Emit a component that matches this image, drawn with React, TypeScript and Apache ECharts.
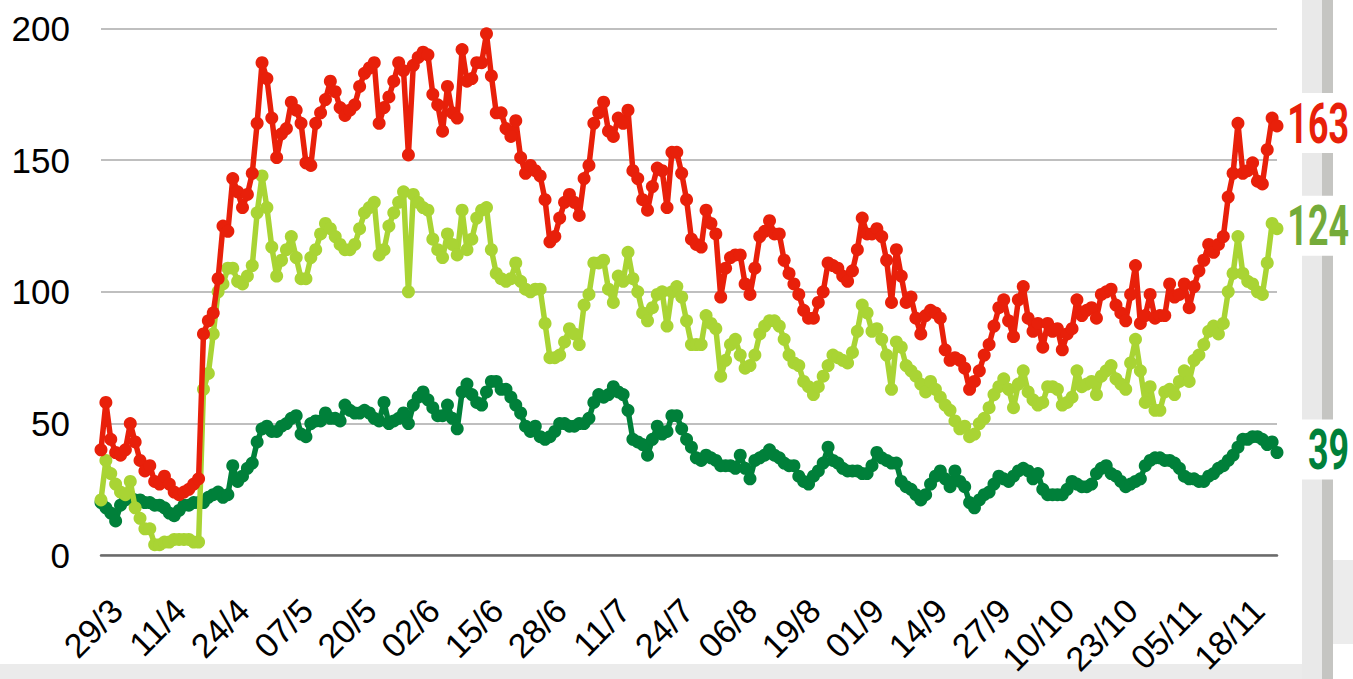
import React, { useEffect, useRef } from "react";
import * as echarts from "echarts";

// first day of the series: 29 March (2020)
const startYear = 2020;
const startMonth = 2; // March (0-based)
const startDay = 29;
const labelStep = 13;

const redValues = [
  40, 58, 44, 39, 38, 40, 50, 43, 36, 32, 34, 28, 27, 30, 27, 24, 23, 24, 25, 27, 29,
  84, 89, 92, 105, 125, 123, 143, 138, 132, 137, 145, 164, 187, 181, 166, 151, 160, 162, 172, 169, 164, 149, 148, 164, 168, 173, 180,
  176, 170, 167, 169, 171, 178, 183, 185, 187, 164, 170, 174, 180, 187, 184, 152, 186, 189, 191, 190, 175, 171, 161, 178,
  168, 166, 192, 180, 181, 187, 187, 198, 182, 168, 168, 162, 159, 165, 151, 145, 148, 146, 144, 135, 119, 121, 128, 134, 137,
  134, 129, 143, 148, 164, 168, 172, 161, 159, 166, 164, 169, 146, 143, 135, 131, 140, 147, 146, 132, 153, 153, 145, 135,
  120, 118, 117, 131, 126, 122, 98, 109, 113, 114, 114, 103, 99, 109, 121, 123, 127, 122, 122, 112, 107, 103, 99, 93, 90,
  90, 96, 100, 111, 110, 109, 106, 104, 108, 116, 128, 122, 122, 124, 121, 112, 96, 116, 106, 96, 98, 90, 84, 91,
  93, 92, 90, 78, 74, 75, 74, 71, 63, 66, 70, 76, 80, 87, 94, 97, 89, 83, 97, 102, 90, 85, 88, 79, 88,
  85, 86, 78, 84, 86, 97, 91, 93, 94, 90, 99, 100, 101, 95, 92, 89, 99, 110, 88, 91, 99, 90, 91, 91, 103,
  98, 99, 103, 94, 102, 108, 112, 118, 115, 118, 121, 136, 145, 164, 145, 146, 149, 142, 141, 154, 166, 163,
];

const limeValues = [
  21, 36, 31, 27, 24, 23, 28, 18, 14, 10, 10, 4, 4, 5, 5, 6, 6, 6, 6, 5, 5,
  63, 69, 84, 100, 103, 109, 109, 104, 103, 106, 110, 130, 144, 132, 117, 106, 112, 116, 121, 113, 105, 105, 113, 116, 122, 126,
  124, 121, 118, 116, 116, 118, 124, 130, 132, 134, 114, 116, 125, 130, 134, 138, 100, 137, 134, 132, 131, 120, 116, 113, 122,
  118, 114, 131, 116, 120, 128, 131, 132, 116, 107, 105, 104, 105, 111, 104, 101, 100, 101, 101, 88, 75, 75, 76, 81, 86,
  84, 80, 95, 99, 111, 111, 112, 101, 96, 106, 104, 115, 105, 100, 92, 89, 94, 99, 100, 87, 100, 102, 98, 89,
  80, 80, 80, 91, 88, 86, 68, 74, 80, 82, 76, 71, 72, 76, 84, 87, 89, 89, 87, 82, 76, 73, 72, 66, 64,
  61, 64, 68, 72, 76, 75, 74, 73, 77, 85, 95, 92, 85, 86, 82, 76, 63, 81, 79, 72, 70, 68, 65, 62,
  66, 63, 60, 57, 55, 51, 48, 49, 45, 46, 50, 52, 56, 61, 64, 67, 63, 56, 65, 70, 62, 59, 57, 58, 64,
  64, 63, 57, 58, 60, 70, 64, 65, 66, 61, 68, 70, 72, 67, 65, 63, 73, 82, 70, 58, 64, 55, 55, 62, 63,
  61, 66, 70, 66, 74, 76, 80, 85, 87, 84, 88, 100, 107, 121, 107, 104, 103, 100, 99, 111, 126, 124,
];

const darkValues = [
  20, 18, 16, 13, 19, 21, 22, 21, 21, 20, 20, 19, 19, 18, 16, 15, 17, 19, 19, 20, 20,
  20, 22, 23, 24, 22, 23, 34, 28, 30, 33, 35, 43, 48, 49, 47, 47, 49, 50, 52, 53, 46, 45, 50, 51, 51, 54,
  52, 52, 51, 57, 55, 54, 54, 55, 54, 52, 51, 58, 50, 51, 52, 54, 50, 57, 60, 62, 59, 56, 53, 53, 57,
  52, 48, 62, 65, 61, 58, 57, 62, 66, 66, 63, 63, 60, 57, 54, 49, 47, 49, 45, 44, 45, 47, 50, 50, 49,
  49, 50, 50, 52, 58, 61, 60, 61, 64, 62, 61, 55, 44, 43, 42, 38, 44, 49, 46, 47, 53, 53, 48, 44,
  41, 37, 36, 38, 37, 36, 34, 34, 34, 33, 38, 33, 29, 36, 37, 38, 40, 38, 37, 35, 34, 34, 30, 28, 27,
  30, 32, 35, 41, 36, 35, 33, 32, 32, 32, 31, 31, 34, 39, 37, 36, 35, 35, 28, 26, 25, 23, 21, 23,
  27, 30, 32, 29, 26, 32, 28, 26, 20, 18, 21, 23, 24, 27, 30, 29, 28, 30, 32, 33, 32, 29, 31, 25, 23,
  23, 23, 23, 25, 28, 27, 26, 26, 27, 31, 33, 34, 31, 30, 28, 26, 27, 28, 29, 34, 36, 37, 37, 36, 36,
  35, 33, 30, 29, 29, 28, 28, 30, 31, 33, 34, 36, 38, 41, 44, 44, 45, 45, 44, 42, 43, 39,
];

const yTicks = [0, 50, 100, 150, 200];

const RED = "#e8200a";
const LIME = "#a9d434";
const DARK = "#00803a";
const LIME_LABEL = "#74ab3a";

function buildCategories(n: number): string[] {
  const out: string[] = [];
  const d = new Date(Date.UTC(startYear, startMonth, startDay));
  for (let i = 0; i < n; i++) {
    const day = d.getUTCDate();
    const m = d.getUTCMonth() + 1;
    out.push(String(day).padStart(2, "0") + "/" + m);
    d.setUTCDate(day + 1);
  }
  return out;
}

const FONT = "'Liberation Sans', Arial, sans-serif";

export default function App() {
  const ref = useRef<HTMLDivElement>(null);

  useEffect(() => {
    if (!ref.current) return;
    const chart = echarts.init(ref.current, undefined, { renderer: "svg" });
    const categories = buildCategories(redValues.length);

    const mkSeries = (name: string, data: number[], color: string, z: number) => ({
      name,
      type: "line",
      data,
      symbol: "circle",
      symbolSize: 13,
      showSymbol: true,
      showAllSymbol: true,
      lineStyle: { width: 5.5, color },
      itemStyle: { color },
      z,
      emphasis: { disabled: true },
    });

    chart.setOption({
      animation: false,
      backgroundColor: "#ffffff",
      textStyle: { fontFamily: FONT },
      grid: { left: 101, right: 76, top: 28.5, bottom: 117, containLabel: false },
      xAxis: {
        type: "category",
        data: categories,
        boundaryGap: false,
        z: 5,
        axisLine: { lineStyle: { color: "#6b6b6b", width: 2.5 } },
        axisTick: { show: false },
        axisLabel: {
          interval: labelStep - 1,
          rotate: 45,
          margin: 41,
          verticalAlign: "top",
          padding: [0, -5, 0, 0],
          color: "#000",
          fontSize: 34,
          fontFamily: FONT,
        },
        splitLine: { show: false },
      },
      yAxis: {
        type: "value",
        min: yTicks[0],
        max: yTicks[yTicks.length - 1],
        interval: yTicks[1] - yTicks[0],
        axisLine: { show: false },
        axisTick: { show: false },
        axisLabel: { color: "#000", fontSize: 35, margin: 31, fontFamily: FONT },
        splitLine: { lineStyle: { color: "#bfbfbf", width: 2 } },
      },
      series: [
        mkSeries("dark", darkValues, DARK, 2),
        mkSeries("lime", limeValues, LIME, 3),
        mkSeries("red", redValues, RED, 4),
      ],
    });

    const last = redValues.length - 1;
    const ends = [
      { seriesIndex: 2, value: redValues[last], color: RED },
      { seriesIndex: 1, value: limeValues[last], color: LIME_LABEL },
      { seriesIndex: 0, value: darkValues[last], color: DARK },
    ];

    const graphics: any[] = [
      { type: "rect", shape: { x: 0, y: 664, width: 1302, height: 15 }, style: { fill: "#ebebeb" }, z: -10 },
      { type: "rect", shape: { x: 1302, y: 0, width: 20, height: 679 }, style: { fill: "#e9e9e9" }, z: -10 },
      { type: "rect", shape: { x: 1322, y: 0, width: 11, height: 679 }, style: { fill: "#c5c5c2" }, z: -10 },
      { type: "rect", shape: { x: 1333, y: 560, width: 20, height: 84 }, style: { fill: "#ececec" }, z: -10 },
    ];
    ends.forEach((e) => {
      const p = chart.convertToPixel({ seriesIndex: e.seriesIndex } as any, [last, e.value]) as number[];
      const cy = p[1] - 3;
      graphics.push({
        type: "rect",
        shape: { x: 1284, y: cy - 30, width: 69, height: 60 },
        style: { fill: "#ffffff" },
        z: 2,
      });
      graphics.push({
        type: "text",
        x: 1349,
        y: cy,
        scaleX: 0.64,
        z: 3,
        style: {
          text: String(e.value),
          fill: e.color,
          fontFamily: "Roboto",
          fontWeight: "bold",
          fontSize: 56,
          align: "right",
          verticalAlign: "middle",
        },
      });
    });
    chart.setOption({ graphic: graphics });

    return () => chart.dispose();
  }, []);

  return (
    <div
      ref={ref}
      style={{ position: "fixed", left: 0, top: 0, width: 1353, height: 679 }}
    />
  );
}
